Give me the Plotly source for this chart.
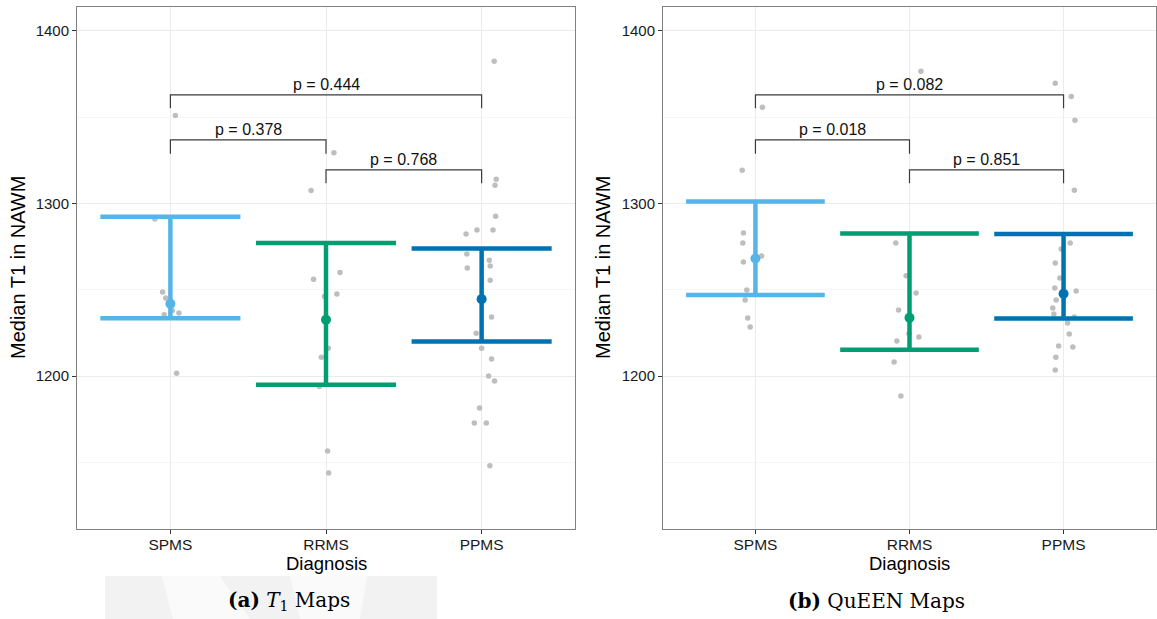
import plotly.graph_objects as go

categories = ["SPMS", "RRMS", "PPMS"]
group_colors = ["#56B4E9", "#009E73", "#0072B2"]
y_ticks = [1200, 1300, 1400]
y_minor = [1150, 1250, 1350]
y_range = [1111.4, 1413.9]

# ---- Panel (a): T1 maps ----
t1_spms_vals = [1351.0, 1291.1, 1248.7, 1245.2, 1238.0, 1236.5, 1235.6, 1201.6]
t1_spms_jit = [0.032, -0.10, -0.05, -0.03, 0.013, 0.055, -0.04, 0.04]
t1_rrms_vals = [1329.5, 1307.5, 1260.1, 1256.2, 1247.6, 1246.2, 1216.2, 1211.0, 1194.0, 1156.6, 1143.9]
t1_rrms_jit = [0.051, -0.096, 0.09, -0.08, 0.07, -0.01, 0.015, -0.03, -0.043, 0.01, 0.017]
t1_ppms_vals = [1382.4, 1314.1, 1310.6, 1292.7, 1284.6, 1284.6, 1282.3, 1270.7, 1267.2, 1263.8, 1262.6,
                1255.6, 1234.2, 1224.9, 1216.2, 1209.9, 1200.1, 1197.2, 1181.5, 1172.8, 1172.8, 1148.0]
t1_ppms_jit = [0.081, 0.094, 0.086, 0.09, -0.03, 0.073, -0.10, -0.095, 0.049, 0.055, -0.092,
               0.055, 0.064, -0.035, 0.0, 0.064, 0.045, 0.083, -0.013, -0.047, 0.03, 0.053]
t1_center = [1241.9, 1232.7, 1244.6]
t1_low = [1233.6, 1195.0, 1220.0]
t1_high = [1292.3, 1277.1, 1274.0]
t1_pvals = ["p = 0.378", "p = 0.768", "p = 0.444"]

# ---- Panel (b): QuEEN maps ----
qn_spms_vals = [1355.8, 1319.3, 1282.9, 1277.1, 1269.6, 1266.1, 1249.9, 1244.1, 1233.7, 1228.4]
qn_spms_jit = [0.045, -0.086, -0.078, -0.082, 0.04, -0.078, -0.056, -0.067, -0.05, -0.034]
qn_rrms_vals = [1376.7, 1277.1, 1258.1, 1248.1, 1238.3, 1224.5, 1222.6, 1220.3, 1208.2, 1188.5]
qn_rrms_jit = [0.074, -0.089, -0.022, 0.043, -0.071, -0.004, 0.061, -0.082, -0.1, -0.056]
qn_ppms_vals = [1369.7, 1362.0, 1348.3, 1307.7, 1277.1, 1273.6, 1265.5, 1256.8, 1251.0, 1249.3,
                1244.1, 1239.5, 1236.0, 1234.2, 1230.8, 1224.4, 1217.4, 1216.9, 1211.0, 1203.5]
qn_ppms_jit = [-0.054, 0.05, 0.074, 0.07, 0.043, -0.015, -0.054, -0.024, -0.057, 0.082,
               -0.048, -0.07, -0.063, 0.07, 0.026, 0.037, -0.032, 0.06, -0.05, -0.054]
qn_center = [1268.2, 1233.8, 1247.7]
qn_low = [1247.0, 1215.3, 1233.4]
qn_high = [1301.2, 1282.6, 1282.3]
qn_pvals = ["p = 0.018", "p = 0.851", "p = 0.082"]

# ---- significance brackets (shared layout) ----
bracket_pairs = [(1, 2), (2, 3), (1, 3)]
bracket_top = [1336.9, 1319.5, 1363.0]
bracket_bottom = [1328.8, 1311.8, 1355.2]

captions = ["<b>(a)</b> <i>T</i><sub>1</sub> Maps", "<b>(b)</b> QuEEN Maps"]

SANS = "Liberation Sans, Arial, sans-serif"
SERIF = "DejaVu Serif, serif"
CAP_HALF = 0.45

fig = go.Figure()

panels = [
    ("x", "y", [t1_spms_vals, t1_rrms_vals, t1_ppms_vals], [t1_spms_jit, t1_rrms_jit, t1_ppms_jit],
     t1_center, t1_low, t1_high, t1_pvals),
    ("x2", "y2", [qn_spms_vals, qn_rrms_vals, qn_ppms_vals], [qn_spms_jit, qn_rrms_jit, qn_ppms_jit],
     qn_center, qn_low, qn_high, qn_pvals),
]

annotations = []
for xa, ya, vals, jits, cen, lo, hi, pv in panels:
    # jittered raw points
    for gi, (v, j) in enumerate(zip(vals, jits)):
        fig.add_trace(go.Scatter(
            x=[gi + 1 + d for d in j], y=v, mode="markers", xaxis=xa, yaxis=ya,
            marker=dict(size=5.5, color="#BEBEBE"), showlegend=False, hoverinfo="skip"))
    # error bars (vertical + caps) and center points
    for gi in range(len(categories)):
        c = gi + 1
        col = group_colors[gi]
        fig.add_trace(go.Scatter(
            x=[c, c], y=[lo[gi], hi[gi]], mode="lines", xaxis=xa, yaxis=ya,
            line=dict(color=col, width=4.5), showlegend=False, hoverinfo="skip"))
        for yy in (lo[gi], hi[gi]):
            fig.add_trace(go.Scatter(
                x=[c - CAP_HALF, c + CAP_HALF], y=[yy, yy], mode="lines", xaxis=xa, yaxis=ya,
                line=dict(color=col, width=4.5), showlegend=False, hoverinfo="skip"))
        fig.add_trace(go.Scatter(
            x=[c], y=[cen[gi]], mode="markers", xaxis=xa, yaxis=ya,
            marker=dict(size=10, color=col), showlegend=False, hoverinfo="skip"))
    # brackets
    for (a, b), top, bot, label in zip(bracket_pairs, bracket_top, bracket_bottom, pv):
        fig.add_trace(go.Scatter(
            x=[a, a, b, b], y=[bot, top, top, bot], mode="lines", xaxis=xa, yaxis=ya,
            line=dict(color="#3a3a3a", width=1.2), showlegend=False, hoverinfo="skip"))
        annotations.append(dict(
            x=(a + b) / 2, y=top, xref=xa, yref=ya, text=label, showarrow=False,
            yanchor="bottom", xanchor="center", yshift=0,
            font=dict(family=SANS, size=16, color="#111111")))
    # x-axis title
    annotations.append(dict(
        x=2, y=1 - 563 / 619, xref=xa, yref="paper", text="Diagnosis", showarrow=False,
        xanchor="center", yanchor="middle", font=dict(family=SANS, size=18.5, color="#000000")))

# y-axis titles
for xp in (18, 603):
    annotations.append(dict(
        x=xp / 1157, y=1 - 268 / 619, xref="paper", yref="paper", text="Median T1 in NAWM",
        showarrow=False, textangle=-90, xanchor="center", yanchor="middle",
        font=dict(family=SANS, size=20, color="#000000")))

# captions
for xp, cap in zip((289.5, 876.5), captions):
    annotations.append(dict(
        x=xp / 1157, y=1 - 601 / 619, xref="paper", yref="paper", text=cap, showarrow=False,
        xanchor="center", yanchor="middle", font=dict(family=SERIF, size=20, color="#000000")))

# faint watermark behind caption (a)
shapes = [
    dict(type="rect", xref="paper", yref="paper", x0=105 / 1157, x1=437 / 1157,
         y0=0, y1=1 - 576 / 619, fillcolor="#F2F2F2", line=dict(width=0), layer="below"),
    dict(type="path", xref="paper", yref="paper",
         path="M {:.4f},{:.4f} L {:.4f},{:.4f} L {:.4f},{:.4f} L {:.4f},{:.4f} Z".format(
             162 / 1157, 1 - 576 / 619, 220 / 1157, 1 - 576 / 619, 250 / 1157, 0, 173 / 1157, 0),
         fillcolor="#FAFAFA", line=dict(width=0), layer="below"),
    dict(type="path", xref="paper", yref="paper",
         path="M {:.4f},{:.4f} L {:.4f},{:.4f} L {:.4f},{:.4f} L {:.4f},{:.4f} Z".format(
             290 / 1157, 1 - 576 / 619, 367 / 1157, 1 - 576 / 619, 360 / 1157, 0, 300 / 1157, 0),
         fillcolor="#FAFAFA", line=dict(width=0), layer="below"),
]

xaxis_common = dict(
    range=[0.4, 3.6], tickmode="array", tickvals=[1, 2, 3], ticktext=categories,
    showgrid=True, gridcolor="#EBEBEB", gridwidth=1, zeroline=False,
    ticks="outside", ticklen=4, tickcolor="#333333", tickwidth=1, ticklabelstandoff=-3,
    showline=True, mirror=True, linecolor="#808080", linewidth=1,
    tickfont=dict(family=SANS, size=15.5, color="#1a1a1a"), fixedrange=True)
yaxis_common = dict(
    range=y_range, tickmode="array", tickvals=y_ticks,
    showgrid=True, gridcolor="#EBEBEB", gridwidth=1, zeroline=False,
    minor=dict(tickvals=y_minor, showgrid=True, gridcolor="#F6F6F6", gridwidth=1, ticks=""),
    ticks="outside", ticklen=4, tickcolor="#333333", tickwidth=1,
    showline=True, mirror=True, linecolor="#808080", linewidth=1,
    tickfont=dict(family=SANS, size=15, color="#1a1a1a"), fixedrange=True)

ydom = [1 - 529 / 619, 1 - 7 / 619]
fig.update_layout(
    width=1157, height=619, margin=dict(l=0, r=0, t=0, b=0),
    paper_bgcolor="white", plot_bgcolor="white", showlegend=False,
    xaxis=dict(domain=[77 / 1157, 575 / 1157], anchor="y", **xaxis_common),
    yaxis=dict(domain=ydom, anchor="x", **yaxis_common),
    xaxis2=dict(domain=[663 / 1157, 1156 / 1157], anchor="y2", **xaxis_common),
    yaxis2=dict(domain=ydom, anchor="x2", **yaxis_common),
    annotations=annotations, shapes=shapes,
)

fig.write_html("out.html")
